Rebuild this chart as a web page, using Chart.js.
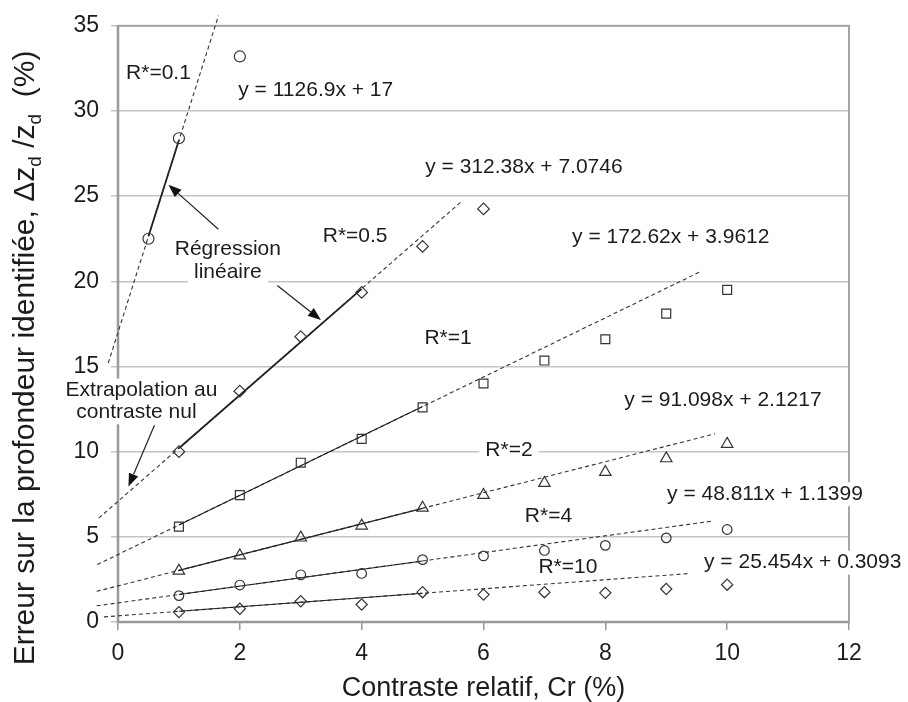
<!DOCTYPE html>
<html><head><meta charset="utf-8">
<script src="https://cdn.jsdelivr.net/npm/chart.js@4.4.1/dist/chart.umd.min.js"></script>
<style>html,body{margin:0;padding:0;background:#fff;}</style>
</head><body>
<canvas id="c" width="908" height="702"></canvas>
<script>
// ---------- data ----------
const xMin = 0, xMax = 12, xStep = 2;
const yMin = 0, yMax = 35, yStep = 5;

const seriesNames = ['R*=0.1', 'R*=0.5', 'R*=1', 'R*=2', 'R*=4', 'R*=10'];

const cr01 = [0.5, 1, 2];
const err01 = [22.5, 28.4, 33.2];
const cr05 = [1, 2, 3, 4, 5, 6];
const err05 = [10.0, 13.55, 16.75, 19.35, 22.05, 24.25];
const crAll = [1, 2, 3, 4, 5, 6, 7, 8, 9, 10];
const err1 = [5.6, 7.45, 9.35, 10.75, 12.6, 14.0, 15.35, 16.6, 18.1, 19.5];
const err2 = [3.0, 3.9, 4.95, 5.65, 6.7, 7.45, 8.15, 8.8, 9.6, 10.45];
const err4 = [1.55, 2.17, 2.77, 2.85, 3.66, 3.88, 4.2, 4.5, 4.94, 5.43];
const err10 = [0.58, 0.78, 1.22, 1.03, 1.75, 1.61, 1.75, 1.71, 1.94, 2.19];

const markerStyle = ['circle', 'rectRot', 'rect', 'triangle', 'circle', 'rectRot'];
const markerRadius = [5.5, 5.8, 6.3, 6.6, 4.8, 5.6];

// regression lines (dashed, extrapolated)
const trendX0 = [-0.16, -0.315, -0.34, -0.35, -0.35, -0.23];
const trendY0 = [15.2, 6.1, 3.37, 1.8, 0.95, 0.3];
const trendX1 = [1.65, 5.66, 9.58, 9.8, 9.77, 9.39];
const trendY1 = [35.6, 24.75, 20.6, 11.05, 5.93, 2.85];
// solid parts over the fitted range
const solidX0 = [0.5, 1, 1, 1, 1, 1];
const solidY0 = [22.64, 10.2, 5.7, 3.03, 1.61, 0.63];
const solidX1 = [1, 4, 5, 5, 5, 5];
const solidY1 = [28.28, 19.56, 12.65, 6.67, 3.58, 1.69];
const solidWidth = [1.8, 1.8, 1.1, 1.1, 1.1, 1.1];

// text annotations (data coordinates of text centre)
const annotText = ['R*=0.1', 'y = 1126.9x + 17', 'y = 312.38x + 7.0746', 'R*=0.5',
  'Régression', 'linéaire', 'y = 172.62x + 3.9612', 'R*=1', 'y = 91.098x + 2.1217',
  'R*=2', 'y = 48.811x + 1.1399', 'R*=4', 'R*=10', 'y = 25.454x + 0.3093',
  'Extrapolation au', 'contraste nul'];
const annotX = [0.664, 3.246, 6.664, 3.893, 1.803, 1.803, 9.074, 5.418, 9.931,
  6.418, 10.62, 7.066, 7.385, 11.24, 0.385, 0.303];
const annotY = [32.19, 31.2, 26.67, 22.66, 21.9, 20.56, 22.6, 16.67, 13.01,
  10.1, 7.5, 6.2, 3.2, 3.49, 13.59, 12.31];
const annotBox = [0, 0, 0, 0, 1, 1, 0, 0, 0, 1, 1, 0, 0, 1, 1, 1];

// arrows (tail -> tip), data coordinates
const arrowX0 = [1.648, 2.615, 0.598];
const arrowY0 = [23.06, 19.75, 11.55];
const arrowX1 = [0.828, 3.331, 0.172];
const arrowY1 = [25.67, 17.73, 7.95];

const xTitle = 'Contraste relatif, Cr (%)';
const yTitleParts = [['Erreur sur la profondeur identifiée, Δz', 0], ['d', 1], [' /z', 0], ['d', 1], ['  (%)', 0]];

// ---------- build ----------
const FONT = '"Liberation Sans", Arial, sans-serif';
const TXT = '#1c1c1c';
const pointSets = [[cr01, err01], [cr05, err05], [crAll, err1], [crAll, err2], [crAll, err4], [crAll, err10]];
const datasets = [];
for (let i = 0; i < seriesNames.length; i++) {
  datasets.push({
    label: seriesNames[i] + ' trend',
    data: [{x: trendX0[i], y: trendY0[i]}, {x: trendX1[i], y: trendY1[i]}],
    showLine: true, borderColor: '#333', borderWidth: 1.1, borderDash: [4, 3],
    pointRadius: 0, clip: false, order: 3
  });
  datasets.push({
    label: seriesNames[i] + ' fit',
    data: [{x: solidX0[i], y: solidY0[i]}, {x: solidX1[i], y: solidY1[i]}],
    showLine: true, borderColor: '#222', borderWidth: solidWidth[i],
    pointRadius: 0, clip: false, order: 2
  });
  datasets.push({
    label: seriesNames[i],
    data: pointSets[i][0].map((v, k) => ({x: v, y: pointSets[i][1][k]})),
    showLine: false, pointStyle: markerStyle[i], pointRadius: markerRadius[i],
    pointBorderColor: '#333', pointBackgroundColor: 'rgba(255,255,255,0)',
    pointBorderWidth: 1.2, clip: false, order: 1
  });
}

const annotPlugin = {
  id: 'annot',
  beforeDatasetsDraw(chart) {
    const {ctx, chartArea: a, scales: {x, y}} = chart;
    ctx.save();
    // frame
    ctx.strokeStyle = '#a6a6a6'; ctx.lineWidth = 2;
    ctx.strokeRect(a.left, a.top, a.right - a.left, a.bottom - a.top);
    ctx.strokeStyle = '#999'; ctx.lineWidth = 2.5;
    ctx.beginPath(); ctx.moveTo(a.left, a.top); ctx.lineTo(a.left, a.bottom); ctx.lineTo(a.right, a.bottom); ctx.stroke();
    // white boxes behind some labels
    ctx.font = '21px ' + FONT;
    ctx.fillStyle = '#fff';
    for (let i = 0; i < annotText.length; i++) {
      if (!annotBox[i]) continue;
      const w = ctx.measureText(annotText[i]).width;
      const px = x.getPixelForValue(annotX[i]), py = y.getPixelForValue(annotY[i]);
      ctx.fillRect(px - w / 2 - 6, py - 12, w + 12, 24);
    }
    ctx.restore();
  },
  afterDatasetsDraw(chart) {
    const {ctx, scales: {x, y}} = chart;
    ctx.save();
    ctx.font = '21px ' + FONT;
    ctx.fillStyle = TXT;
    ctx.textAlign = 'center'; ctx.textBaseline = 'middle';
    for (let i = 0; i < annotText.length; i++) {
      ctx.fillText(annotText[i], x.getPixelForValue(annotX[i]), y.getPixelForValue(annotY[i]));
    }
    // arrows
    ctx.strokeStyle = '#222'; ctx.fillStyle = '#111'; ctx.lineWidth = 1.2;
    for (let i = 0; i < arrowX0.length; i++) {
      const x0 = x.getPixelForValue(arrowX0[i]), y0 = y.getPixelForValue(arrowY0[i]);
      const x1 = x.getPixelForValue(arrowX1[i]), y1 = y.getPixelForValue(arrowY1[i]);
      const ang = Math.atan2(y1 - y0, x1 - x0);
      const hl = 13, hw = 5;
      const bx = x1 - hl * Math.cos(ang), by = y1 - hl * Math.sin(ang);
      ctx.beginPath(); ctx.moveTo(x0, y0); ctx.lineTo(bx, by); ctx.stroke();
      ctx.beginPath();
      ctx.moveTo(x1, y1);
      ctx.lineTo(bx + hw * Math.sin(ang), by - hw * Math.cos(ang));
      ctx.lineTo(bx - hw * Math.sin(ang), by + hw * Math.cos(ang));
      ctx.closePath(); ctx.fill();
    }
    ctx.restore();
  },
  afterDraw(chart) {
    const {ctx} = chart;
    ctx.save();
    const big = '30px ' + FONT, small = '19px ' + FONT;
    let total = 0;
    const widths = yTitleParts.map(p => { ctx.font = p[1] ? small : big; const w = ctx.measureText(p[0]).width; total += w; return w; });
    ctx.translate(34, 358);
    ctx.rotate(-Math.PI / 2);
    ctx.fillStyle = TXT; ctx.textAlign = 'left'; ctx.textBaseline = 'alphabetic';
    let cx = -total / 2;
    yTitleParts.forEach((p, i) => {
      ctx.font = p[1] ? small : big;
      ctx.fillText(p[0], cx, p[1] ? 7 : 0);
      cx += widths[i];
    });
    ctx.restore();
  }
};

new Chart(document.getElementById('c'), {
  type: 'scatter',
  data: {datasets},
  options: {
    responsive: false, animation: false, devicePixelRatio: 1,
    layout: {padding: {left: 0, top: 19, right: 59, bottom: 0}},
    plugins: {legend: {display: false}, tooltip: {enabled: false}},
    scales: {
      x: {
        type: 'linear', min: xMin, max: xMax,
        ticks: {stepSize: xStep, color: TXT, font: {family: FONT, size: 23}, padding: 10, maxRotation: 0},
        grid: {drawOnChartArea: false, drawTicks: true, tickLength: 8, color: '#999', lineWidth: 1.5},
        border: {display: false},
        title: {display: true, text: xTitle, color: TXT, font: {family: FONT, size: 27, lineHeight: 1}, padding: {top: 0, bottom: 0}},
        afterFit(s) { s.height = 80; }
      },
      y: {
        type: 'linear', min: yMin, max: yMax,
        ticks: {stepSize: yStep, color: TXT, font: {family: FONT, size: 23}, padding: 12},
        grid: {color: '#c4c4c4', lineWidth: 1.5, tickLength: 7},
        border: {display: false},
        afterFit(s) { s.width = 118; }
      }
    }
  },
  plugins: [annotPlugin]
});
</script>
</body></html>
